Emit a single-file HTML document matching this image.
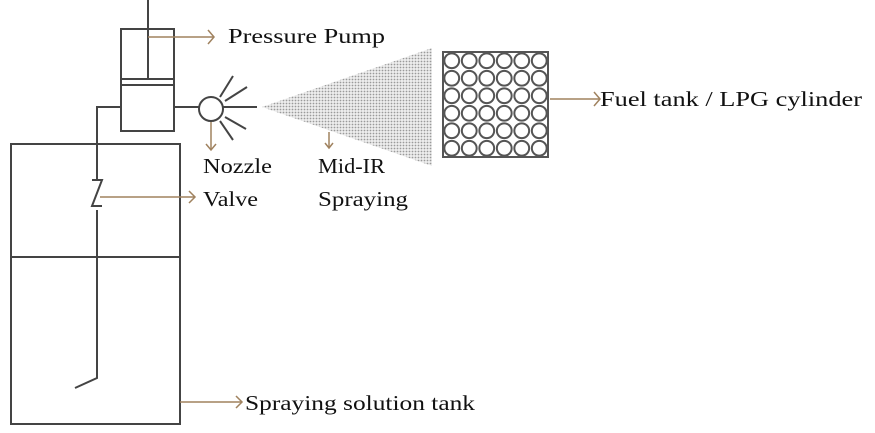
<!DOCTYPE html>
<html><head><meta charset="utf-8"><style>
html,body{margin:0;padding:0;background:#fff;width:875px;height:433px;overflow:hidden}
text{font-family:"Liberation Serif",serif;font-size:21px;fill:#111}
</style></head><body>
<svg width="875" height="433" viewBox="0 0 875 433" xmlns="http://www.w3.org/2000/svg">
<defs>
<pattern id="dots" width="3" height="3" patternUnits="userSpaceOnUse">
<rect width="3" height="3" fill="#eee"/><circle cx="1.5" cy="1.5" r="0.9" fill="#9a9a9a"/>
</pattern>
<pattern id="cells" x="443" y="52" width="17.5" height="17.5" patternUnits="userSpaceOnUse">
<rect width="17.5" height="17.5" fill="#fff"/>
<circle cx="8.75" cy="8.75" r="7.4" fill="#fff" stroke="#555" stroke-width="2"/>
</pattern>
</defs>
<g stroke="#444" stroke-width="2" fill="none">
<rect x="11" y="144" width="169" height="280"/>
<line x1="11" y1="257" x2="180" y2="257"/>
<rect x="121" y="29" width="53" height="102"/>
<line x1="148" y1="0" x2="148" y2="80"/>
<line x1="121" y1="79" x2="174" y2="79"/>
<line x1="121" y1="85" x2="174" y2="85"/>
<polyline points="121,107 97,107 97,180"/>
<polyline points="97,210 97,378 75,388"/>
<polyline points="92,180 102,180 92,206 102,206"/>
<line x1="174" y1="107" x2="200" y2="107"/>
<circle cx="211" cy="109" r="12"/>
<line x1="223" y1="107" x2="257" y2="107"/>
<line x1="220" y1="97" x2="233" y2="76"/>
<line x1="225" y1="101" x2="247" y2="87"/>
<line x1="225" y1="117" x2="246" y2="129"/>
<line x1="220" y1="121" x2="233" y2="140"/>
</g>
<polygon points="262,107 432,48 432,166" fill="url(#dots)"/>
<rect x="443" y="52" width="105" height="105" fill="url(#cells)" stroke="#555" stroke-width="2"/>
<g stroke="#a0825f" stroke-width="1.5" fill="none">
<line x1="148" y1="37" x2="214" y2="37"/><polyline points="208,30 214,37 208,44"/>
<line x1="211" y1="122" x2="211" y2="150"/><polyline points="206,144 211,150 216,144"/>
<line x1="329" y1="132" x2="329" y2="148"/><polyline points="325,143 329,148 333,143"/>
<line x1="100" y1="197" x2="195" y2="197"/><polyline points="189,191 195,197 189,203"/>
<line x1="550" y1="99" x2="600" y2="99"/><polyline points="594,92 600,99 594,106"/>
<line x1="180" y1="402" x2="242" y2="402"/><polyline points="236,396 242,402 236,408"/>
</g>
<text x="228" y="43" textLength="157" lengthAdjust="spacingAndGlyphs">Pressure Pump</text>
<text x="203" y="173" textLength="69" lengthAdjust="spacingAndGlyphs">Nozzle</text>
<text x="203" y="206" textLength="55" lengthAdjust="spacingAndGlyphs">Valve</text>
<text x="318" y="173" textLength="67" lengthAdjust="spacingAndGlyphs">Mid-IR</text>
<text x="318" y="206" textLength="90" lengthAdjust="spacingAndGlyphs">Spraying</text>
<text x="600" y="106" textLength="262" lengthAdjust="spacingAndGlyphs">Fuel tank / LPG cylinder</text>
<text x="245" y="410" textLength="230" lengthAdjust="spacingAndGlyphs">Spraying solution tank</text>
</svg>
</body></html>
